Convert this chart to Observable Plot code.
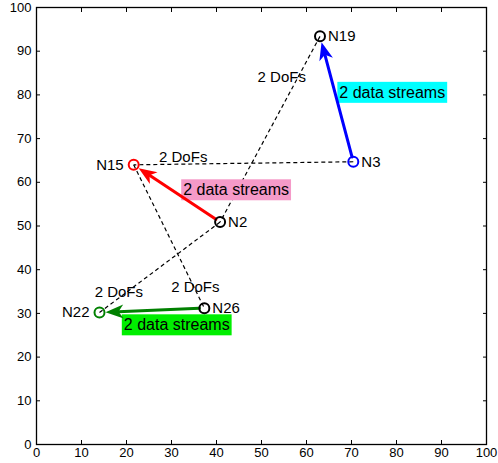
<!DOCTYPE html>
<html><head><meta charset="utf-8">
<script src="https://cdn.jsdelivr.net/npm/d3@7"></script>
<script src="https://cdn.jsdelivr.net/npm/@observablehq/plot@0.6"></script>
<style>body{margin:0;background:#fff}</style>
</head><body><div id="chart"></div>
<script>
// ---- data ----
const nodeNames = ["N19", "N3", "N15", "N2", "N22", "N26"];
const nodeX = [63.0, 70.4, 21.6, 40.8, 14.0, 37.3];
const nodeY = [93.4, 64.7, 64.0, 50.9, 30.2, 31.2];

const streamFrom = ["N3", "N2", "N26"];
const streamTo = ["N19", "N15", "N22"];
const streamText = ["2 data streams", "2 data streams", "2 data streams"];
const streamLabelX = [67.3, 32.6, 19.4];
const streamLabelY = [80.5, 58.2, 27.3];

const dofFrom = ["N3", "N19", "N2", "N15"];
const dofTo = ["N15", "N2", "N22", "N26"];
const dofText = ["2 DoFs", "2 DoFs", "2 DoFs", "2 DoFs"];
const dofLabelX = [32.6, 54.5, 18.3, 35.3];
const dofLabelY = [65.7, 84.0, 34.8, 36.0];

const xTicks = [0, 10, 20, 30, 40, 50, 60, 70, 80, 90, 100];
const yTicks = [0, 10, 20, 30, 40, 50, 60, 70, 80, 90, 100];

// ---- styles ----
const nodeColor = {N19: "#000", N3: "#0000ff", N15: "#ff0000", N2: "#000", N22: "#008000", N26: "#000"};
const streamColor = {N3: "#0000ff", N2: "#ff0000", N26: "#008000"};
const boxColor = {N3: "#00ffff", N2: "#f59ac8", N26: "#00ee00"};
const leftLabeled = new Set(["N15", "N22"]);

const W = 498, H = 463, ML = 36, MR = 12, MT = 7, MB = 19;
const kx = (W - ML - MR) / 100, ky = (H - MT - MB) / 100;
const HEAD = {inset: 6, len: 18, width: 14, notch: 5};
const FONT = "'Liberation Sans', Arial, Helvetica, sans-serif";

// ---- tables ----
const pos = Object.fromEntries(nodeNames.map((n, i) => [n, [nodeX[i], nodeY[i]]]));
const nodes = nodeNames.map((n, i) => ({name: n, x: nodeX[i], y: nodeY[i]}));
const streams = streamFrom.map((s, i) => ({
  from: s, to: streamTo[i],
  x1: pos[s][0], y1: pos[s][1], x2: pos[streamTo[i]][0], y2: pos[streamTo[i]][1],
  text: streamText[i], lx: streamLabelX[i], ly: streamLabelY[i]
}));
const dofs = dofFrom.map((s, i) => ({
  x1: pos[s][0], y1: pos[s][1], x2: pos[dofTo[i]][0], y2: pos[dofTo[i]][1],
  text: dofText[i], lx: dofLabelX[i], ly: dofLabelY[i]
}));

const arrowHead = {
  draw(ctx) {
    const t = HEAD.inset, b = t + HEAD.len, w = HEAD.width / 2;
    ctx.moveTo(0, t);
    ctx.lineTo(-w, b);
    ctx.lineTo(0, b - HEAD.notch);
    ctx.lineTo(w, b);
    ctx.closePath();
  }
};

const plot = Plot.plot({
  width: W, height: H,
  marginLeft: ML, marginRight: MR, marginTop: MT, marginBottom: MB,
  style: {fontFamily: FONT, background: "#fff", color: "#000", overflow: "visible"},
  x: {domain: [0, 100], label: null},
  y: {domain: [0, 100], label: null},
  marks: [
    Plot.axisX(xTicks, {anchor: "bottom", tickSize: -4, tickPadding: 7, fontSize: 13, label: null}),
    Plot.axisX(xTicks, {anchor: "top", tickSize: -4, tickFormat: () => "", label: null}),
    Plot.axisY(yTicks, {anchor: "left", tickSize: -4, tickPadding: 9, fontSize: 13, label: null}),
    Plot.axisY(yTicks, {anchor: "right", tickSize: -4, tickFormat: () => "", label: null}),
    Plot.frame({stroke: "#000", strokeWidth: 1.3}),
    Plot.link(dofs, {x1: "x1", y1: "y1", x2: "x2", y2: "y2", stroke: "#000", strokeWidth: 1.2, strokeDasharray: "4,3"}),
    Plot.text(dofs, {x: "lx", y: "ly", text: "text", fontSize: 15, fill: "#000"}),
    Plot.text(streams, {x: "lx", y: "ly", text: "text", textAnchor: "start", fontSize: 16, fill: "#000"}),
    Plot.arrow(streams, {
      x1: "x1", y1: "y1", x2: "x2", y2: "y2",
      stroke: d => streamColor[d.from], strokeWidth: 3, headLength: 0,
      insetStart: 5, insetEnd: HEAD.inset + HEAD.len - HEAD.notch
    }),
    Plot.dot(streams, {
      x: "x2", y: "y2", symbol: arrowHead, r: 5,
      fill: d => streamColor[d.from], stroke: "none",
      rotate: d => Math.atan2((d.x2 - d.x1) * kx, (d.y2 - d.y1) * ky) * 180 / Math.PI
    }),
    Plot.dot(nodes, {x: "x", y: "y", r: 5, stroke: d => nodeColor[d.name], strokeWidth: 2, fill: "none"}),
    Plot.text(nodes.filter(d => !leftLabeled.has(d.name)), {x: "x", y: "y", text: "name", textAnchor: "start", dx: 8, fontSize: 15, fill: "#000"}),
    Plot.text(nodes.filter(d => leftLabeled.has(d.name)), {x: "x", y: "y", text: "name", textAnchor: "end", dx: -10, fontSize: 15, fill: "#000"})
  ]
});
document.getElementById("chart").append(plot);

// background boxes behind the stream labels (in data order)
const svgNS = "http://www.w3.org/2000/svg";
const labelEls = Array.from(plot.querySelectorAll("text")).filter(t => t.textContent === streamText[0]);
labelEls.forEach((t, i) => {
  const b = t.getBBox();
  const r = document.createElementNS(svgNS, "rect");
  r.setAttribute("x", b.x - 2);
  r.setAttribute("y", b.y - 2);
  r.setAttribute("width", b.width + 4);
  r.setAttribute("height", b.height + 4);
  r.setAttribute("fill", boxColor[streams[i].from]);
  if (t.getAttribute("transform")) r.setAttribute("transform", t.getAttribute("transform"));
  t.parentNode.insertBefore(r, t);
});
</script>
</body></html>
